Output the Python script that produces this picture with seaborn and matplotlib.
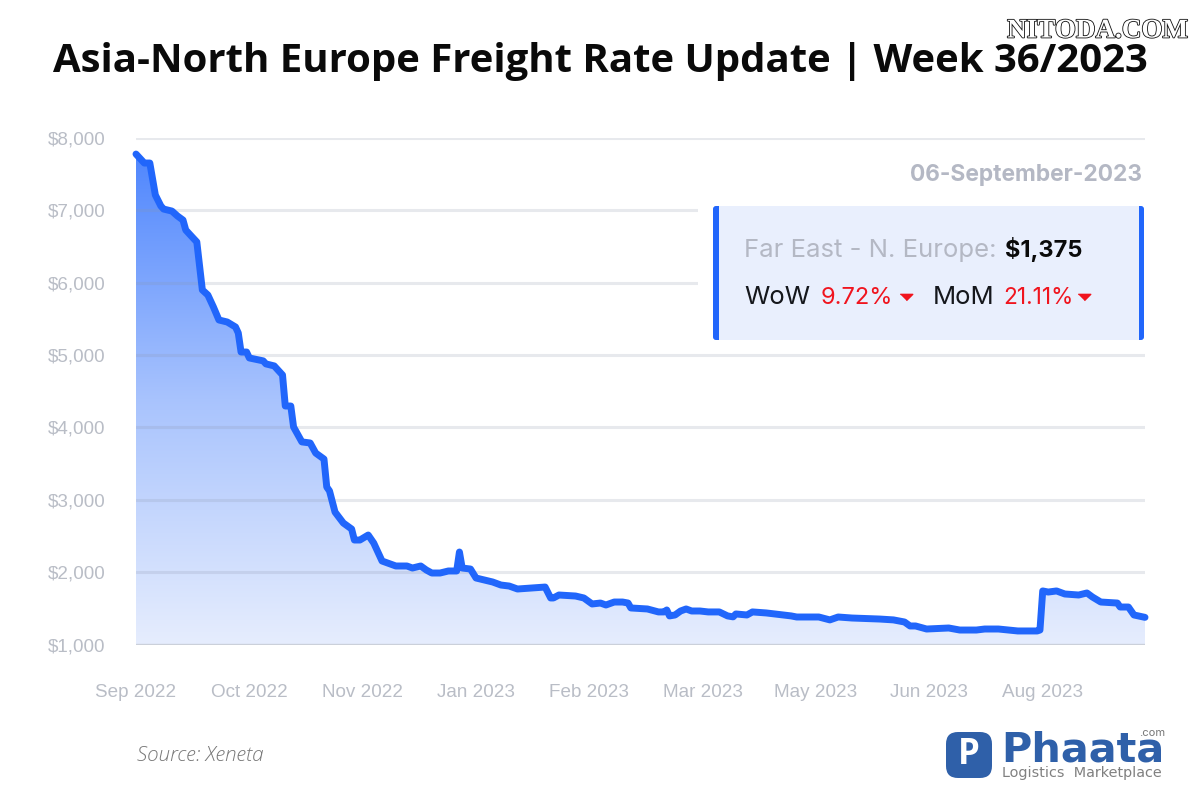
import matplotlib
matplotlib.use("Agg")
import matplotlib.dates as mdates
import matplotlib.patches as mpatches
import matplotlib.patheffects as pe
import matplotlib.pyplot as plt
import numpy as np
import pandas as pd
import seaborn as sns
from matplotlib.colors import LinearSegmentedColormap

# ── Data ──────────────────────────────────────────────────────────────────────
START_DATE = "2022-09-06"
days = [0, 3, 5, 7, 9, 10, 13, 15, 17, 18, 20, 22, 24, 26, 28, 30, 33, 36, 37, 38, 40, 41,
        46, 47, 50, 53, 54, 56, 57, 60, 63, 65, 68, 69, 70, 72, 75, 78, 79, 81, 84, 86, 89,
        94, 98, 100, 103, 105, 107, 110, 113, 116, 117, 118, 121, 123, 129, 132, 135, 138,
        148, 150, 151, 153, 159, 162, 165, 168, 170, 173, 176, 178, 179, 185, 189, 191, 192,
        193, 195, 197, 199, 201, 204, 207, 211, 214, 216, 217, 221, 223, 228, 237, 239, 247,
        251, 254, 259, 269, 274, 278, 280, 282, 286, 294, 298, 304, 307, 312, 319, 326, 327,
        328, 330, 333, 336, 341, 344, 346, 349, 355, 356, 359, 361, 365]
rates = [7778, 7654, 7654, 7212, 7060, 7018, 6990, 6922, 6866, 6728, 6645, 6563, 5900, 5830,
         5665, 5485, 5457, 5388, 5305, 5042, 5042, 4960, 4920, 4878, 4850, 4725, 4296, 4296,
         4006, 3800, 3785, 3646, 3563, 3177, 3122, 2830, 2679, 2596, 2444, 2444, 2513, 2402,
         2154, 2085, 2085, 2057, 2085, 2030, 1988, 1988, 2016, 2016, 2278, 2057, 2043, 1919,
         1864, 1822, 1808, 1767, 1794, 1643, 1643, 1684, 1670, 1643, 1560, 1573, 1546, 1587,
         1587, 1573, 1505, 1491, 1450, 1450, 1477, 1395, 1408, 1463, 1491, 1463, 1463, 1450,
         1450, 1395, 1382, 1422, 1408, 1450, 1436, 1395, 1380, 1380, 1340, 1380, 1366, 1352,
         1340, 1311, 1256, 1256, 1214, 1228, 1200, 1200, 1214, 1214, 1187, 1187, 1200, 1740,
         1725, 1740, 1698, 1684, 1712, 1656, 1587, 1573, 1518, 1518, 1408, 1375]
tick_days = [0, 41, 82, 123, 164, 205, 246, 287, 328]
tick_labels = ["Sep 2022", "Oct 2022", "Nov 2022", "Jan 2023", "Feb 2023",
               "Mar 2023", "May 2023", "Jun 2023", "Aug 2023"]
y_ticks = [1000, 2000, 3000, 4000, 5000, 6000, 7000, 8000]

BLUE = "#2166FB"
TICK_GREY = "#B9BDC6"
SOFT_GREY = "#B4B8C4"
RED = "#F0141E"
INK = "#15171C"

# ── Style ─────────────────────────────────────────────────────────────────────
sns.set_theme(style="white")
plt.rcParams["font.family"] = ["Inter", "DejaVu Sans"]

start = pd.Timestamp(START_DATE)
df = pd.DataFrame({"date": start + pd.to_timedelta(days, unit="D"), "rate": rates})
x_ticks = start + pd.to_timedelta(tick_days, unit="D")

fig = plt.figure(figsize=(12, 8), dpi=100, facecolor="white")
ax = fig.add_axes([136 / 1200, 1 - 644.5 / 800, (1145 - 136) / 1200, (644.5 - 138) / 800])

# ── Chart ─────────────────────────────────────────────────────────────────────
x0, x1 = mdates.date2num(df["date"].iloc[0]), mdates.date2num(df["date"].iloc[-1])
cmap = LinearSegmentedColormap.from_list("fade", ["#E6EDFE", "#A8C3FD", "#4F86FE"])
poly = ax.fill_between(df["date"], df["rate"], 1000, color="none", linewidth=0)
grad = ax.imshow(np.linspace(1, 0, 256).reshape(-1, 1), cmap=cmap, aspect="auto",
                 extent=[x0, x1, 1000, 7800], zorder=1)
clip = mpatches.PathPatch(poly.get_paths()[0], transform=ax.transData)
grad.set_clip_path(clip)

for v in y_ticks[1:]:
    ax.axhline(v, color="#8A94A8", alpha=0.2, linewidth=2.2, zorder=2)
ax.axhline(1000, color="#CBD0DA", linewidth=2.4, zorder=2)

sns.lineplot(data=df, x="date", y="rate", ax=ax, color=BLUE, linewidth=5, zorder=3,
             errorbar=None, estimator=None, clip_on=False)

ax.set_xlim(x0, x1)
ax.set_ylim(1000, 8000)
ax.set_xlabel("")
ax.set_ylabel("")
ax.set_xticks(x_ticks)
ax.set_xticklabels(tick_labels)
ax.set_yticks(y_ticks)
ax.set_yticklabels([f"${v:,}" for v in y_ticks])
ax.tick_params(axis="x", length=0, pad=28.5, labelsize=13.6, labelcolor=TICK_GREY)
ax.tick_params(axis="y", length=0, pad=22, labelsize=13.6, labelcolor=TICK_GREY)
for lab in ax.get_xticklabels() + ax.get_yticklabels():
    lab.set_fontfamily("Liberation Sans")
sns.despine(ax=ax, left=True, bottom=True)

# ── Overlay in picture pixels: title, callout, logo ───────────────────────────
ov = fig.add_axes([0, 0, 1, 1], facecolor="none")
ov.set_xlim(0, 1200)
ov.set_ylim(800, 0)
ov.axis("off")

ov.text(600, 61.5, "Asia-North Europe Freight Rate Update | Week 36/2023", ha="center", va="center",
        fontsize=28.9, fontweight="bold", color="#0A0A0A", family="Open Sans")
ov.text(1098, 31, "NITODA.COM", ha="center", va="center", fontsize=19.5, fontweight="bold",
        family="Liberation Serif", color="white",
        path_effects=[pe.withStroke(linewidth=1.2, foreground="#111111")])

ov.add_patch(mpatches.Rectangle((698, 198), 452, 150, facecolor="white", edgecolor="none"))
ov.text(1142, 175, "06-September-2023", ha="right", va="center", fontsize=16.4,
        fontweight="bold", color=SOFT_GREY)
ov.add_patch(mpatches.FancyBboxPatch((715, 208), 427, 130, boxstyle="round,pad=2,rounding_size=3",
                                     facecolor=BLUE, edgecolor="none"))
ov.add_patch(mpatches.Rectangle((719, 206), 420, 134, facecolor="#E9EFFD", edgecolor="none"))

ov.text(744, 250, "Far East - N. Europe:", ha="left", va="center", fontsize=18.5, color=SOFT_GREY)
ov.text(1005, 249, "$1,375", ha="left", va="center", fontsize=17, fontweight="bold", color="#0A0A0A")
ov.text(744, 298, "WoW", ha="left", va="center", fontsize=18.5, color=INK)
ov.text(821, 298, "9.72%", ha="left", va="center", fontsize=17, color=RED)
ov.text(933, 298, "MoM", ha="left", va="center", fontsize=18.5, color=INK)
ov.text(1003, 298, "21.11%", ha="left", va="center", fontsize=16.3, color=RED)
ov.plot([906, 1084], [297, 297], linestyle="none", color=RED, markersize=9,
        marker=[(-1, 0.5), (1, 0.5), (0, -0.5)])

ov.text(137, 756, "Source: Xeneta", ha="left", va="center", fontsize=14.9, style="italic",
        color="#777777", family="Open Sans", fontweight="light")

LOGO = "#2F60A9"
ov.add_patch(mpatches.FancyBboxPatch((952, 738), 34, 34, boxstyle="round,pad=6,rounding_size=12",
                                     facecolor=LOGO, edgecolor="none"))
ov.text(969, 755, "P", ha="center", va="center", fontsize=25, fontweight="bold", color="white",
        family="Open Sans")
ov.text(1001, 750, "Phaata", ha="left", va="center", fontsize=29.8, fontweight="bold", color=LOGO,
        family="DejaVu Sans")
ov.text(1165, 733, ".com", ha="right", va="center", fontsize=8, color="#777777")
ov.text(1002, 773, "Logistics  Marketplace", ha="left", va="center", fontsize=10.4, color="#808080",
        family="DejaVu Sans")

fig.savefig("out.png", dpi=100)
